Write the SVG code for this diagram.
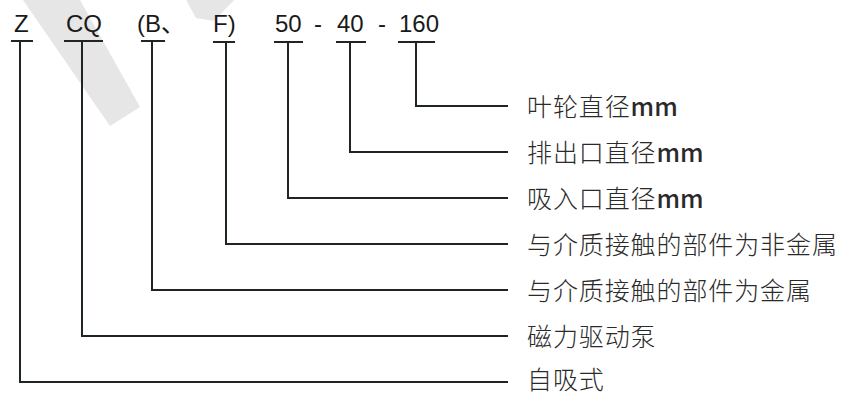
<svg xmlns="http://www.w3.org/2000/svg" width="859" height="395" viewBox="0 0 859 395">
<style>
.code{font-family:"Liberation Sans",Arial,sans-serif;font-size:24px;fill:#1a1a1a}
.desc{font-family:"Noto Sans CJK SC","Noto Sans",sans-serif;font-size:25px;font-weight:300;fill:#2a2a2a;letter-spacing:0.9px}
.mm{font-weight:500;letter-spacing:0}
.ul{stroke:#1e2522;stroke-width:2;fill:none}
.conn{stroke:#1e2522;stroke-width:2;fill:none}
.wm{fill:#e6e6e6}
</style>
<rect width="859" height="395" fill="#ffffff"/>
<g id="watermark">
<polygon class="wm" points="23,0 80,0 140,107 110,126"/>
<polygon class="wm" points="186,0 234,0 214,21 196,18"/>
</g>
<g id="code-Z"><text class="code" x="14" y="32">Z</text><line class="ul" x1="11" y1="41" x2="33" y2="41"/></g>
<g id="code-CQ"><text class="code" x="66" y="32">CQ</text><line class="ul" x1="64" y1="41" x2="103" y2="41"/></g>
<g id="code-B"><text class="code" x="137" y="32">(B<tspan font-family="Noto Sans CJK SC,sans-serif">、</tspan></text><line class="ul" x1="141" y1="41" x2="165" y2="41"/></g>
<g id="code-F"><text class="code" x="213" y="32">F)</text><line class="ul" x1="213" y1="42" x2="235" y2="42"/></g>
<g id="code-50"><text class="code" x="275" y="32">50</text><line class="ul" x1="274" y1="42" x2="303" y2="42"/></g>
<g id="dash1"><text class="code" x="314" y="32">-</text></g>
<g id="code-40"><text class="code" x="337" y="32">40</text><line class="ul" x1="336" y1="42" x2="366" y2="42"/></g>
<g id="dash2"><text class="code" x="378" y="32">-</text></g>
<g id="code-160"><text class="code" x="399" y="32">160</text><line class="ul" x1="398" y1="42" x2="435" y2="42"/></g>
<g id="connectors">
<polyline class="conn" points="416,42 416,106 508,106"/>
<polyline class="conn" points="350,42 350,152 508,152"/>
<polyline class="conn" points="288,42 288,198 508,198"/>
<polyline class="conn" points="226,42 226,244 508,244"/>
<polyline class="conn" points="152,41 152,290 508,290"/>
<polyline class="conn" points="82,41 82,336 508,336"/>
<polyline class="conn" points="20,41 20,382 508,382"/>
</g>
<g id="desc-impeller"><text class="desc" x="527" y="116">叶轮直径<tspan class="mm">mm</tspan></text></g>
<g id="desc-outlet"><text class="desc" x="527" y="162">排出口直径<tspan class="mm">mm</tspan></text></g>
<g id="desc-inlet"><text class="desc" x="527" y="208">吸入口直径<tspan class="mm">mm</tspan></text></g>
<g id="desc-nonmetal"><text class="desc" x="527" y="254">与介质接触的部件为非金属</text></g>
<g id="desc-metal"><text class="desc" x="527" y="300">与介质接触的部件为金属</text></g>
<g id="desc-magnetic"><text class="desc" x="527" y="346">磁力驱动泵</text></g>
<g id="desc-selfpriming"><text class="desc" x="527" y="389">自吸式</text></g>
</svg>
